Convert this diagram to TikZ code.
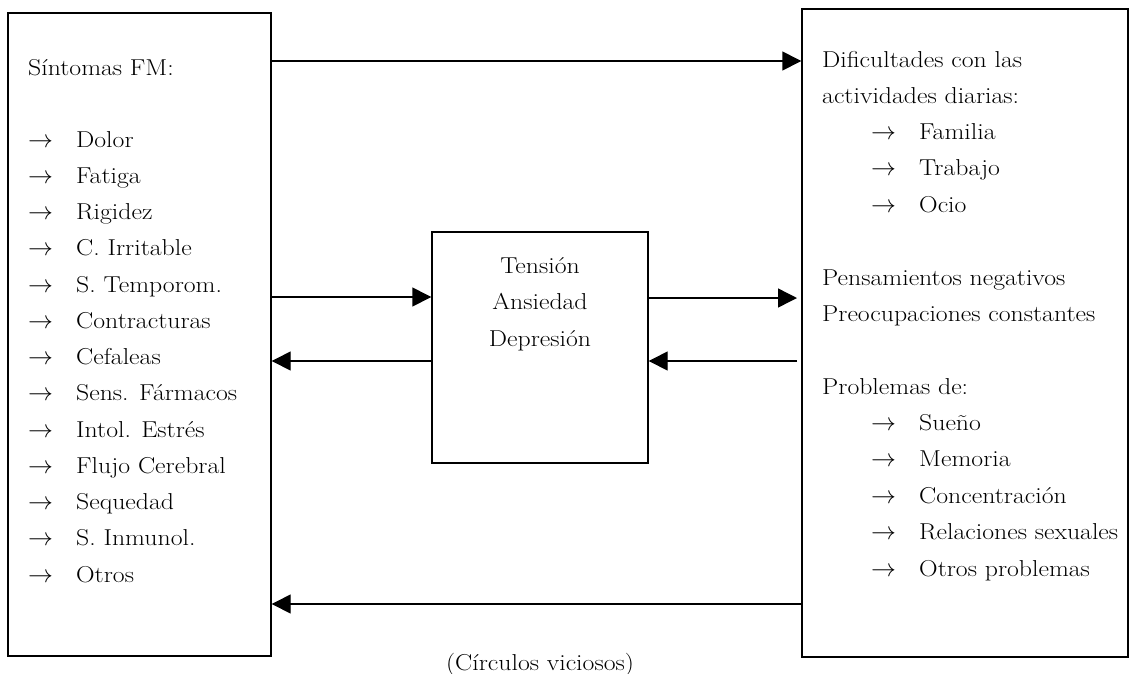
\documentclass[tikz,border=0pt]{standalone}
\usepackage{fontspec}
\setmainfont{Latin Modern Roman}[FakeStretch=1.12]
\usetikzlibrary{arrows.meta,positioning}
\tikzset{
  caja/.style={draw, line width=1.4pt, inner sep=0pt},
  flecha/.style={line width=1.4pt, -{Triangle[length=19pt,width=19pt]}},
  item/.style={anchor=west, inner sep=0pt, text height=15pt, text depth=5pt},
  medio/.style={inner sep=0pt, text height=15pt, text depth=5pt},
}
\newcommand{\fl}{\makebox[48pt][l]{$\rightarrow$}}
\begin{document}
\begin{tikzpicture}[x=1pt,y=-1pt,font=\fontsize{23}{27}\selectfont]
	\useasboundingbox (0,0) rectangle (1136,673);
	% cajas
	\node[caja, minimum width=263pt, minimum height=643pt] (sintomas) at (139.5,334.5) {};
	\node[caja, minimum width=216pt, minimum height=231pt] (estados) at (540,347.5) {};
	\node[caja, minimum width=326pt, minimum height=648pt] (consecuencias) at (965,333) {};
	% caja izquierda
	\node[item] (tituloizq) at (28,70) {Síntomas FM:};
	\foreach \t [count=\i] in {Dolor, Fatiga, Rigidez, C. Irritable, S. Temporom.,
		Contracturas, Cefaleas, Sens. Fármacos, Intol. Estrés, Flujo Cerebral,
		Sequedad, S. Inmunol., Otros}
		\node[item] (izq\i) at (28,{142+(\i-1)*36.25}) {\fl\t};
	% caja central
	\node[medio] (tension) at (540,268) {Tensión};
	\node[medio] (ansiedad) at (540,304) {Ansiedad};
	\node[medio] (depresion) at (540,341) {Depresión};
	% caja derecha
	\node[item] (dif1) at (822,62) {Dificultades con las};
	\node[item] (dif2) at (822,98) {actividades diarias:};
	\foreach \t [count=\i] in {Familia, Trabajo, Ocio}
		\node[item] (act\i) at (871,{134+(\i-1)*36.5}) {\fl\t};
	\node[item] (pensam) at (822,280) {Pensamientos negativos};
	\node[item] (preoc) at (822,316) {Preocupaciones constantes};
	\node[item] (probl) at (822,389) {Problemas de:};
	\foreach \t [count=\i] in {Sueño, Memoria, Concentración, Relaciones sexuales, Otros problemas}
		\node[item] (prob\i) at (871,{425+(\i-1)*36.5}) {\fl\t};
	\node[medio] (circulos) at (540,665) {(Círculos viciosos)};
	% flechas
	\coordinate (r1) at (797,298);
	\coordinate (r2) at (797,361);
	\draw[flecha] (sintomas.east |- 0,61) -- (consecuencias.west |- 0,61);
	\draw[flecha] (sintomas.east |- 0,297) -- (estados.west |- 0,297);
	\draw[flecha] (estados.west |- 0,361) -- (sintomas.east |- 0,361);
	\draw[flecha] (estados.east |- r1) -- (r1);
	\draw[flecha] (r2) -- (estados.east |- r2);
	\draw[flecha] (consecuencias.west |- 0,604) -- (sintomas.east |- 0,604);
\end{tikzpicture}
\end{document}
